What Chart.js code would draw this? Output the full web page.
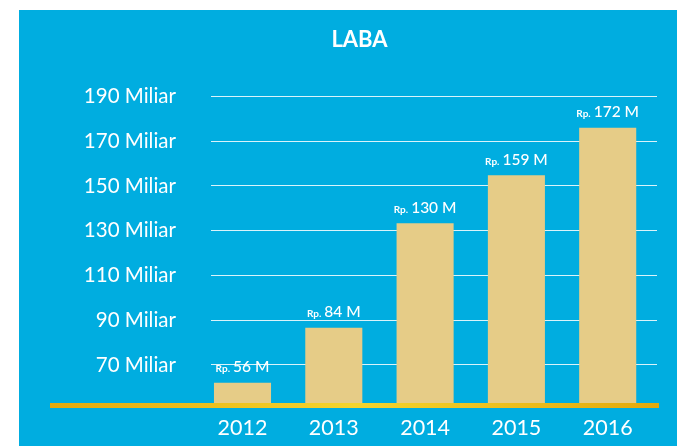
<!DOCTYPE html>
<html>
<head>
<meta charset="utf-8">
<script src="https://cdn.jsdelivr.net/npm/chart.js@4/dist/chart.umd.min.js"></script>
<style>
  html, body { margin: 0; padding: 0; background: #fff; }
  #wrap { width: 677px; height: 446px; }
</style>
</head>
<body>
<div id="wrap"><canvas id="myChart" width="677" height="446"></canvas></div>
<script>
'use strict';

// years on the x axis
const years = ['2012', '2013', '2014', '2015', '2016'];
// bar heights as drawn against the "Miliar" scale
const barValues = [62, 86.6, 133.3, 154.8, 176];
// printed value over each bar (Rp. ... M)
const profitLabels = ['56 M', '84 M', '130 M', '159 M', '172 M'];
// y axis ticks
const yTicks = [70, 90, 110, 130, 150, 170, 190];

const BLUE = '#00ADE0';
const BAR = '#E6CC87';

const bgPlugin = {
  id: 'bg',
  beforeDraw(chart) {
    const ctx = chart.ctx;
    ctx.save();
    ctx.fillStyle = BLUE;
    ctx.fillRect(19, 10, chart.width - 19, chart.height - 10);
    ctx.restore();
  }
};

// gold base line under the bars
const baseLine = {
  id: 'baseLine',
  beforeDatasetsDraw(chart) {
    const ctx = chart.ctx;
    const area = chart.chartArea;
    const x0 = 50, x1 = area.right + 2;
    const g = ctx.createLinearGradient(x0, 0, x1, 0);
    g.addColorStop(0, '#E4A90C');
    g.addColorStop(0.5, '#F4D42E');
    g.addColorStop(1, '#E4A90C');
    ctx.save();
    ctx.fillStyle = g;
    ctx.fillRect(x0, area.bottom, x1 - x0, 5);
    ctx.restore();
  }
};

const valueLabels = {
  id: 'valueLabels',
  afterDatasetsDraw(chart) {
    const ctx = chart.ctx;
    const meta = chart.getDatasetMeta(0);
    ctx.save();
    ctx.fillStyle = '#fff';
    ctx.textBaseline = 'alphabetic';
    ctx.textAlign = 'left';
    meta.data.forEach((bar, i) => {
      const small = 'Rp.';
      const big = profitLabels[i];
      ctx.font = 'bold 10px Lato';
      const w1 = ctx.measureText(small).width;
      ctx.font = '500 15.5px Lato';
      const w2 = ctx.measureText(big).width;
      const gap = 3;
      const start = bar.x - (w1 + gap + w2) / 2;
      const y = bar.y - 10.5;
      ctx.font = 'bold 10px Lato';
      ctx.fillText(small, start, y);
      ctx.font = '500 15.5px Lato';
      ctx.fillText(big, start + w1 + gap, y);
    });
    ctx.restore();
  }
};

const ctx = document.getElementById('myChart');
new Chart(ctx, {
  type: 'bar',
  data: {
    datasets: [{
      data: years.map((y, i) => ({ x: i, y: barValues[i] })),
      backgroundColor: BAR,
      borderWidth: 0,
      categoryPercentage: 1,
      barPercentage: 0.625,
    }]
  },
  options: {
    responsive: false,
    animation: false,
    events: [],
    layout: { autoPadding: false, padding: { left: 62, right: 20, top: 0, bottom: 0 } },
    plugins: {
      legend: { display: false },
      tooltip: { enabled: false },
      title: {
        display: true,
        text: 'LABA',
        color: '#fff',
        font: { family: 'Lato', size: 22, weight: 'bold' },
        padding: { top: 27, bottom: 43 },
      },
    },
    scales: {
      x: {
        type: 'linear',
        offset: false,
        min: -0.345,
        max: 4.54,
        afterFit: scale => {
          scale.height = 43;
          scale.paddingTop = 0;
          scale.paddingBottom = 0;
        },
        grid: { display: false, offset: false },
        border: { display: false },
        ticks: {
          stepSize: 1,
          includeBounds: false,
          maxRotation: 0,
          color: '#fff',
          padding: 4,
          font: { family: 'Lato', size: 21.5 },
          callback: v => (Number.isInteger(v) ? years[v] : ''),
        },
      },
      y: {
        min: 53,
        max: 190,
        afterBuildTicks: scale => { scale.ticks = yTicks.map(v => ({ value: v })); },
        afterFit: scale => {
          scale.width = 149;
          scale.paddingTop = 0;
          scale.paddingBottom = 0;
        },
        grid: { color: 'rgba(255,255,255,0.85)', lineWidth: 1, drawTicks: false },
        border: { display: false },
        ticks: {
          color: '#fff',
          padding: 35,
          font: { family: 'Lato', size: 20.5 },
          callback: v => v + ' Miliar',
        },
      },
    },
  },
  plugins: [bgPlugin, baseLine, valueLabels],
});
</script>
</body>
</html>
